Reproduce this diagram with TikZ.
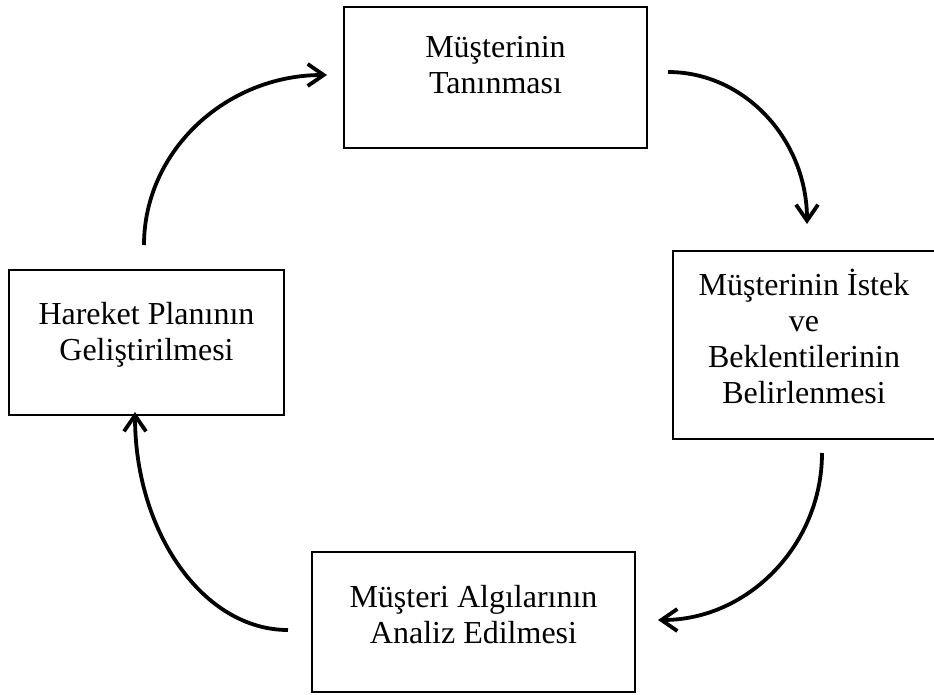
\documentclass[tikz,border=0pt]{standalone}
\usepackage{fontspec}
\setmainfont{Liberation Serif}
\usetikzlibrary{arrows.meta}

\tikzset{
  stagebox/.style={draw=black, line width=2.6pt, fill=none, inner sep=0pt},
  stagetext/.style={text width=#1, align=flush center, anchor=base, inner sep=0pt,
    font=\fontsize{32}{36}\selectfont},
  cycle/.style={line width=3.8pt, -{Straight Barb[length=16pt, width=22pt]}},
}

\begin{document}
\begin{tikzpicture}[x=1pt, y=-1pt]
  \useasboundingbox (0,0) rectangle (934,695);

  % the four stages of the cycle
  \node[stagebox, minimum width=303pt, minimum height=141pt] (know) at (495.5,77.5) {};
  \node[stagetext=290pt] (knowtxt) at (495.5,58) {Müşterinin\\Tanınması};

  \node[stagebox, minimum width=262pt, minimum height=188pt] (wish) at (804,345) {};
  \node[stagetext=255pt] (wishtxt) at (804,295) {Müşterinin İstek\\ve\\Beklentilerinin\\Belirlenmesi};

  \node[stagebox, minimum width=323pt, minimum height=140pt] (perc) at (473.5,622) {};
  \node[stagetext=310pt] (perctxt) at (473.5,607) {Müşteri Algılarının\\Analiz Edilmesi};

  \node[stagebox, minimum width=275pt, minimum height=145pt] (plan) at (146.5,342.5) {};
  \node[stagetext=265pt] (plantxt) at (146.5,324) {Hareket Planının\\Geliştirilmesi};

  % ends of the curved arrows between the stages
  \coordinate (a1s) at (668,72);
  \coordinate (a1e) at (807,224);
  \coordinate (a2s) at (822,453);
  \coordinate (a2e) at (658,620);
  \coordinate (a3s) at (288,630);
  \coordinate (a3e) at (135,412);
  \coordinate (a4s) at (144,245);
  \coordinate (a4e) at (327,75);

  \draw[cycle] (a1s) .. controls (745,72) and (807,140) .. (a1e);
  \draw[cycle] (a2s) .. controls (822,545) and (748,620) .. (a2e);
  \draw[cycle] (a3s) .. controls (203,630) and (135,532) .. (a3e);
  \draw[cycle] (a4s) .. controls (144,151) and (226,75) .. (a4e);
\end{tikzpicture}
\end{document}
